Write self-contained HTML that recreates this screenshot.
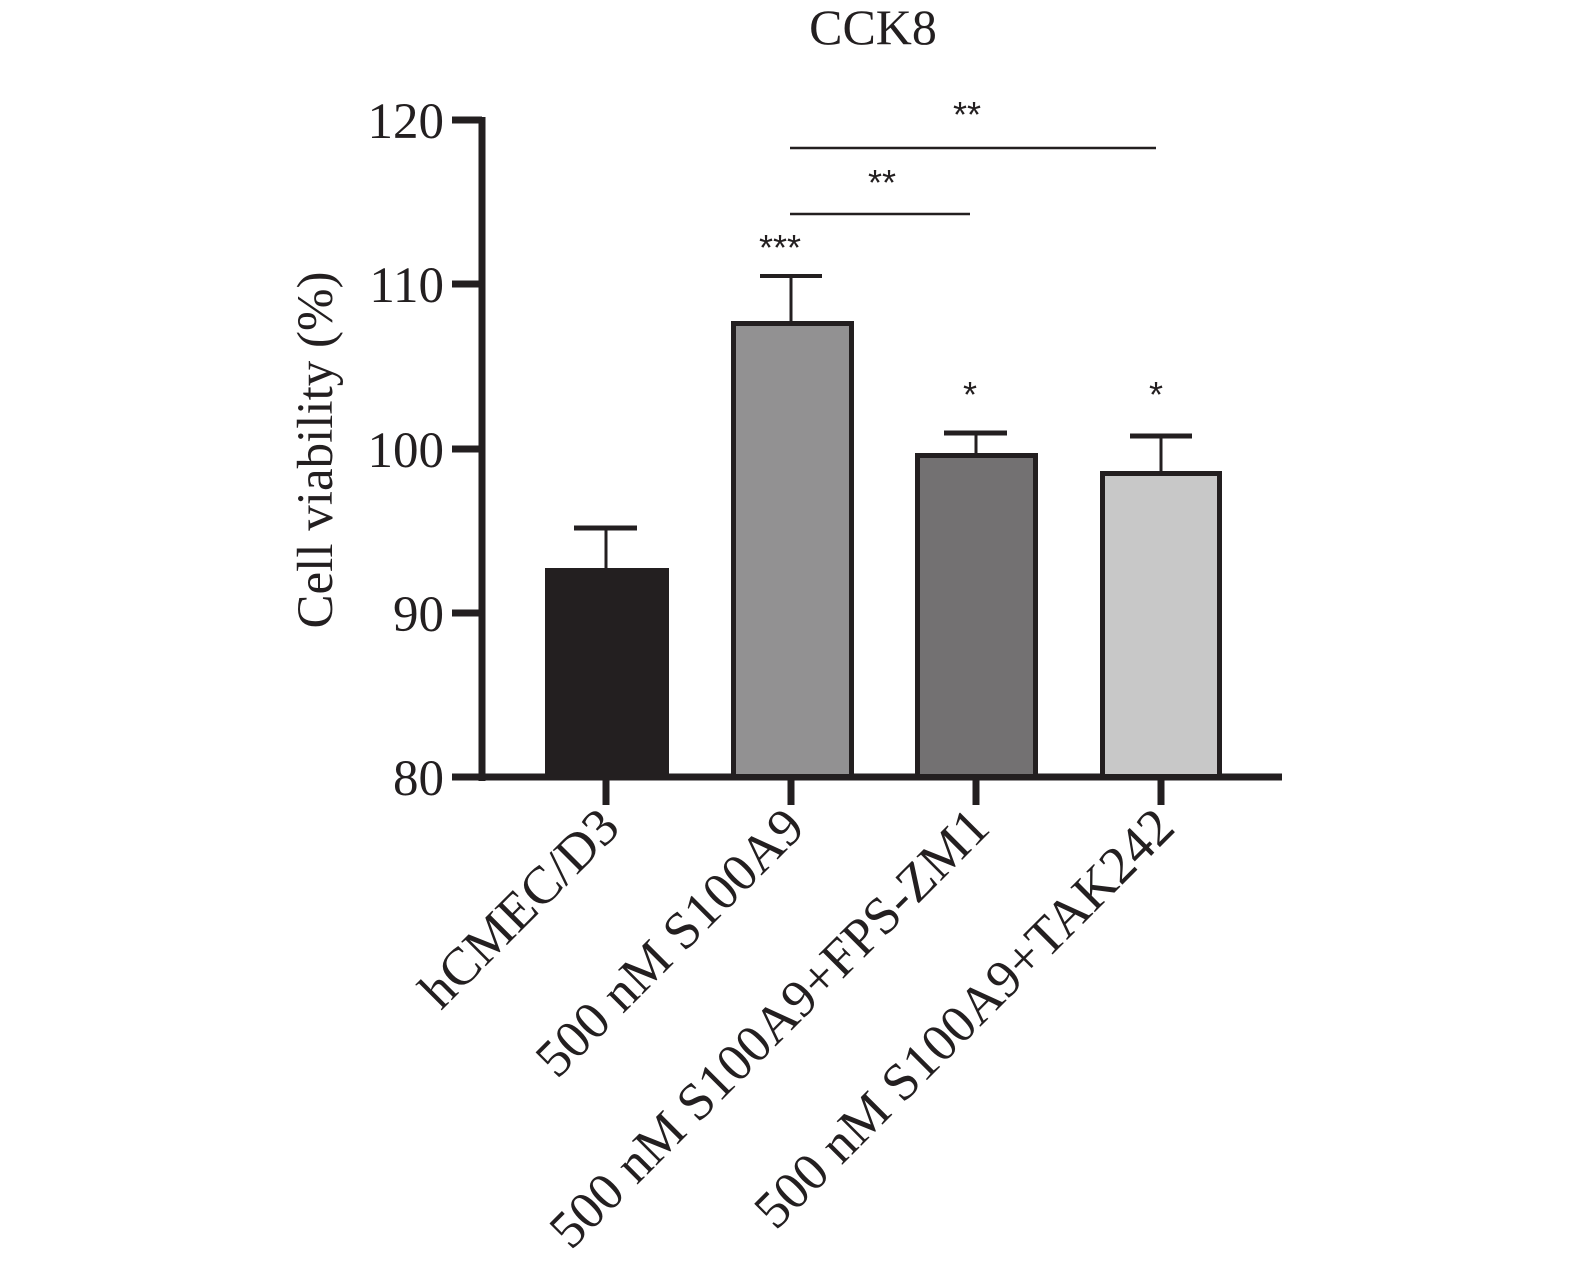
<!DOCTYPE html>
<html><head><meta charset="utf-8"><style>body{margin:0;background:#fff}</style></head>
<body>
<svg width="1575" height="1277" xmlns="http://www.w3.org/2000/svg" font-family="Liberation Serif, serif" fill="#231f20">
<text x="873" y="44" font-size="50" text-anchor="middle">CCK8</text>
<!-- axes -->
<line x1="482" y1="117" x2="482" y2="781" stroke="#231f20" stroke-width="7"/>
<line x1="452" y1="777" x2="1282" y2="777" stroke="#231f20" stroke-width="7"/>
<g stroke="#231f20" stroke-width="7">
<line x1="452" y1="120" x2="482" y2="120"/>
<line x1="452" y1="284" x2="482" y2="284"/>
<line x1="452" y1="449" x2="482" y2="449"/>
<line x1="452" y1="613" x2="482" y2="613"/>
<line x1="606" y1="777" x2="606" y2="805"/>
<line x1="791" y1="777" x2="791" y2="805"/>
<line x1="976" y1="777" x2="976" y2="805"/>
<line x1="1161" y1="777" x2="1161" y2="805"/>
</g>
<g font-size="51" text-anchor="end">
<text x="444" y="138">120</text>
<text x="444" y="302">110</text>
<text x="444" y="467">100</text>
<text x="444" y="631">90</text>
<text x="444" y="795">80</text>
</g>
<text transform="translate(332,450) rotate(-90)" font-size="51" text-anchor="middle">Cell viability (%)</text>
<!-- error bars -->
<g stroke="#231f20">
<line x1="606" y1="528" x2="606" y2="568" stroke-width="3"/><line x1="574" y1="528" x2="637" y2="528" stroke-width="5"/>
<line x1="791" y1="276" x2="791" y2="321" stroke-width="3"/><line x1="760" y1="276" x2="822" y2="276" stroke-width="4"/>
<line x1="976" y1="433" x2="976" y2="453" stroke-width="3"/><line x1="944" y1="433" x2="1007" y2="433" stroke-width="5"/>
<line x1="1161" y1="436" x2="1161" y2="471" stroke-width="3"/><line x1="1130" y1="436" x2="1192" y2="436" stroke-width="5"/>
</g>
<!-- bars -->
<rect x="545" y="568" width="124" height="209" fill="#231f20"/>
<rect x="733.5" y="323.5" width="118" height="453" fill="#929192" stroke="#231f20" stroke-width="5"/>
<rect x="917.5" y="455.5" width="118" height="321" fill="#737172" stroke="#231f20" stroke-width="5"/>
<rect x="1102.5" y="473.5" width="117" height="303" fill="#c8c8c8" stroke="#231f20" stroke-width="5"/>
<!-- significance -->
<g stroke="#231f20" stroke-width="2.5">
<line x1="790" y1="148" x2="1156" y2="148"/>
<line x1="790" y1="214" x2="970" y2="214"/>
</g>
<g font-size="36" text-anchor="middle" font-family="Liberation Sans, sans-serif">
<text x="967" y="127">**</text>
<text x="882" y="195">**</text>
<text x="780" y="260">***</text>
<text x="970" y="407">*</text>
<text x="1156" y="407">*</text>
</g>
<!-- x labels -->
<g font-size="53" text-anchor="end">
<text transform="translate(622,830) rotate(-45)">hCMEC/D3</text>
<text transform="translate(807,830) rotate(-45)">500 nM S100A9</text>
<text transform="translate(992,830) rotate(-45)">500 nM S100A9+FPS-ZM1</text>
<text transform="translate(1177,830) rotate(-45)">500 nM S100A9+TAK242</text>
</g>
</svg>
</body></html>
